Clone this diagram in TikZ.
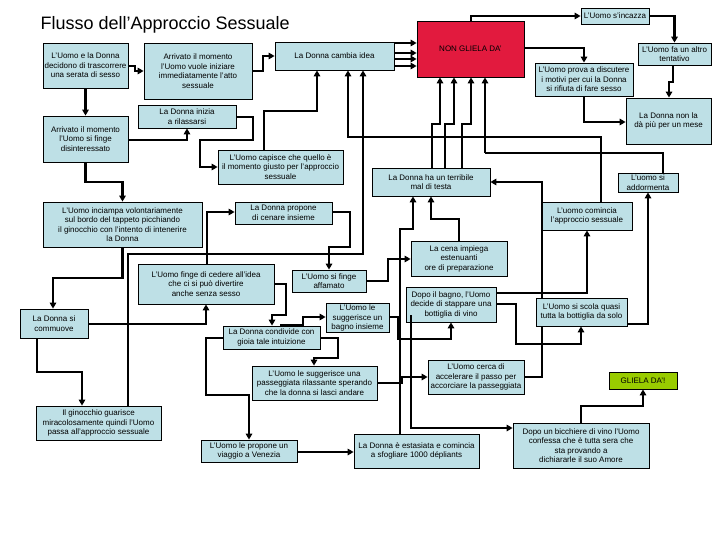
\documentclass[tikz,border=0pt]{standalone}
\usepackage{fontspec}
\setmainfont{Liberation Sans}
\usetikzlibrary{arrows.meta,backgrounds}
\definecolor{boxblue}{RGB}{190,224,230}
\definecolor{nored}{RGB}{226,26,62}
\definecolor{yesgreen}{RGB}{153,204,0}
\begin{document}
\begin{tikzpicture}[x=1pt,y=-1pt,
  box/.style={draw=black, line width=0.8pt, fill=boxblue, align=center, inner sep=1pt,
    font=\fontsize{8}{9.5}\selectfont},
  sz/.style 2 args={minimum width=#1pt, minimum height=#2pt},
  conn/.style={line width=2.7pt, -{Triangle[length=6pt,width=6.5pt]}},
  plainconn/.style={line width=2.7pt}]
\useasboundingbox (0,0) rectangle (720,540);

\node[anchor=base west, font=\fontsize{18}{20}\selectfont] (title) at (37,30) {Flusso dell'Approccio Sessuale};

% boxes
\node[box, sz={85}{45}] (A) at (85.5,65.5) {L'Uomo e la Donna\\decidono di trascorrere\\una serata di sesso};
\node[box, sz={108}{56}] (B) at (198,71) {Arrivato il momento\\l'Uomo vuole iniziare\\immediatamente l'atto\\sessuale};
\node[box, sz={119}{28}] (C) at (334.5,56) {La Donna cambia idea};
\node[box, sz={85}{46}] (D) at (85.5,139) {Arrivato il momento\\l'Uomo si finge\\disinteressato};
\node[box, sz={98}{23}] (E) at (187,116.5) {La Donna inizia\\a rilassarsi};
\node[box, sz={125}{34}] (F) at (280.5,167) {L'Uomo capisce che quello è\\il momento giusto per l'approccio\\sessuale};
\node[box, sz={107}{56}, fill=nored] (NGD) at (470.5,49) {NON GLIELA DA'};
\node[box, sz={68}{16}] (incazza) at (615,16) {L'Uomo s'incazza};
\node[box, sz={73}{22}] (tentativo) at (674.5,54) {L'Uomo fa un altro\\tentativo};
\node[box, sz={98}{33}] (discutere) at (584,79.5) {L'Uomo prova a discutere\\i motivi per cui la Donna\\si rifiuta di fare sesso};
\node[box, sz={85}{46}] (nonlada) at (668.5,121) {La Donna non la\\dà più per un mese};
\node[box, sz={118}{28}] (maltesta) at (431,182) {La Donna ha un terribile\\mal di testa};
\node[box, sz={60}{19}] (addormenta) at (648,182.5) {L'uomo si\\addormenta};
\node[box, sz={90}{28}] (comincia) at (587,216) {L'uomo comincia\\l'approccio sessuale};
\node[box, sz={159}{45}] (inciampa) at (122.5,224.5) {L'Uomo inciampa volontariamente\\sul bordo del tappeto picchiando\\il ginocchio con l'intento di intenerire\\la Donna};
\node[box, sz={97}{22}] (propone) at (283.5,213) {La Donna propone\\di cenare insieme};
\node[box, sz={136}{40}] (cedere) at (206,284) {L'Uomo finge di cedere all'idea\\che ci si può divertire\\anche senza sesso};
\node[box, sz={74}{22}] (affamato) at (329,281) {L'Uomo si finge\\affamato};
\node[box, sz={96}{35}] (cena) at (459,258.5) {La cena impiega\\estenuanti\\ore di preparazione};
\node[box, sz={68}{29}] (commuove) at (54,323.5) {La Donna si\\commuove};
\node[box, sz={63}{28}] (bagno) at (357.5,318) {L'Uomo le\\suggerisce un\\bagno insieme};
\node[box, sz={90}{35}] (dopobagno) at (451,304.5) {Dopo il bagno, l'Uomo\\decide di stappare una\\bottiglia di vino};
\node[box, sz={91}{28}] (scola) at (581.5,312) {L'Uomo si scola quasi\\tutta la bottiglia da solo};
\node[box, sz={97}{23}] (condivide) at (271.5,337.5) {La Donna condivide con\\gioia tale intuizione};
\node[box, sz={125}{34}] (passeggiata) at (314.5,383) {L'Uomo le suggerisce una\\passeggiata rilassante sperando\\che la donna si lasci andare};
\node[box, sz={96}{34}] (accelerare) at (476,377) {L'Uomo cerca di\\accelerare il passo per\\accorciare la passeggiata};
\node[box, sz={68}{17}, fill=yesgreen] (gliela) at (643,380.5) {GLIELA DA'!};
\node[box, sz={125}{34}] (ginocchio) at (98.5,423) {Il ginocchio guarisce\\miracolosamente quindi l'Uomo\\passa all'approccio sessuale};
\node[box, sz={96}{22}] (venezia) at (249,451) {L'Uomo le propone un\\viaggio a Venezia};
\node[box, sz={125}{34}] (estasiata) at (416.5,451) {La Donna è estasiata e comincia\\a sfogliare 1000 dépliants};
\node[box, sz={136}{45}] (bicchiere) at (581,445.5) {Dopo un bicchiere di vino l'Uomo\\confessa che è tutta sera che\\sta provando a\\dichiararle il suo Amore};

% segments lying over box edges
\draw[plainconn] (280,0 |- condivide.north) -- (304.35,0 |- condivide.north);
\draw[line width=1.5pt] (411,315) -- (411,0 |- dopobagno.south);

\begin{scope}[on background layer]
\fill[white] (0,0) rectangle (720,540);
% connectors
\draw[conn] (A.east |- 0,66) -- (135,66) |- (B.west |- 0,71);
\draw[conn] (B.east |- 0,71) -- (263,71) |- (C.west |- 0,56);
\draw[conn] (A.south) -- (D.north);
\draw[conn] (D.east |- 0,140) -| (E.south);
\draw[conn] (E.east |- 0,117) -- (253,117) -- (253,140) -- (200,140) |- (F.west);
\draw[conn] (264,0 |- F.north) |- (317,111) -- (317,0 |- C.south);
\draw[conn] (601,0 |- comincia.north) |- (348,137) -- (348,0 |- C.south);
\draw[conn] (128,0 |- ginocchio.north) |- (363,254) -- (363,0 |- C.south);
\draw[plainconn] (663,0 |- addormenta.north) |- (485,153);
\draw[conn] (485,153) -- (485,0 |- NGD.south);
\draw[conn] (C.east |- 0,43) -- (NGD.west |- 0,43);
\draw[conn] (C.east |- 0,53) -- (NGD.west |- 0,53);
\draw[conn] (C.east |- 0,59) -- (NGD.west |- 0,59);
\draw[conn] (C.east |- 0,66) -- (NGD.west |- 0,66);
\draw[conn] (432,0 |- maltesta.north) |- (440,124) -- (440,0 |- NGD.south);
\draw[conn] (445,0 |- maltesta.north) |- (454,124) -- (454,0 |- NGD.south);
\draw[conn] (462,0 |- maltesta.north) |- (471,124) -- (471,0 |- NGD.south);
\draw[conn] (400,0 |- estasiata.north) |- (413,229) -- (413,0 |- maltesta.south);
\draw[conn] (459,0 |- cena.north) |- (431,219) -- (431,0 |- maltesta.south);
\draw[conn] (accelerare.east |- 0,377) -| (542,182) -- (maltesta.east |- 0,182);
\draw[conn] (dopobagno.east |- 0,293) -| (comincia.south);
\draw[conn] (dopobagno.east |- 0,304) -- (516,304) |- (581,344) -- (581,0 |- scola.south);
\draw[conn] (scola.east |- 0,324) -| (addormenta.south);
\draw[conn] (bagno.east |- 0,317) -- (398,317) |- (451,339) -- (451,0 |- dopobagno.south);
\draw[conn] (411,0 |- dopobagno.south) |- (bicchiere.west |- 0,428);
\draw[conn] (bicchiere.north) |- (643,406) -- (gliela.south);
\draw[conn] (303,0 |- condivide.north) |- (bagno.west |- 0,317);
\draw[conn] (cedere.east |- 0,284) -- (286,284) |- (272,315) -- (272,0 |- condivide.north);
\draw[conn] (commuove.east |- 0,324) -| (cedere.south);
\draw[conn] (207,0 |- cedere.north) |- (propone.west |- 0,212);
\draw[conn] (propone.east |- 0,212) -- (350,212) |- (329,247) -- (affamato.north);
\draw[conn] (D.south) |- (122.5,182) -- (inciampa.north);
\draw[conn] (inciampa.south) |- (53,278) -- (53,0 |- commuove.north);
\draw[conn] (37,0 |- commuove.south) |- (82,372) -- (82,0 |- ginocchio.north);
\draw[conn] (condivide.west |- 0,338) -- (206,338) |- (249,395) -- (venezia.north);
\draw[conn] (condivide.east |- 0,338) -- (338,338) |- (314,358) -- (314,0 |- passeggiata.north);
\draw[conn] (passeggiata.east |- 0,383) -- (402,383) |- (accelerare.west |- 0,377);
\draw[conn] (venezia.east |- 0,452) -- (estasiata.west |- 0,452);
\draw[conn] (affamato.east |- 0,281) -- (388,281) |- (cena.west |- 0,259);
\draw[conn] (471,0 |- NGD.north) |- (incazza.west);
\draw[conn] (incazza.east) -| (tentativo.north);
\draw[conn] (673,0 |- tentativo.south) |- (669,82) -- (669,0 |- nonlada.north);
\draw[conn] (NGD.east |- 0,48) -| (discutere.north);
\draw[conn] (discutere.south) |- (nonlada.west |- 0,122);
\end{scope}
\end{tikzpicture}
\end{document}
